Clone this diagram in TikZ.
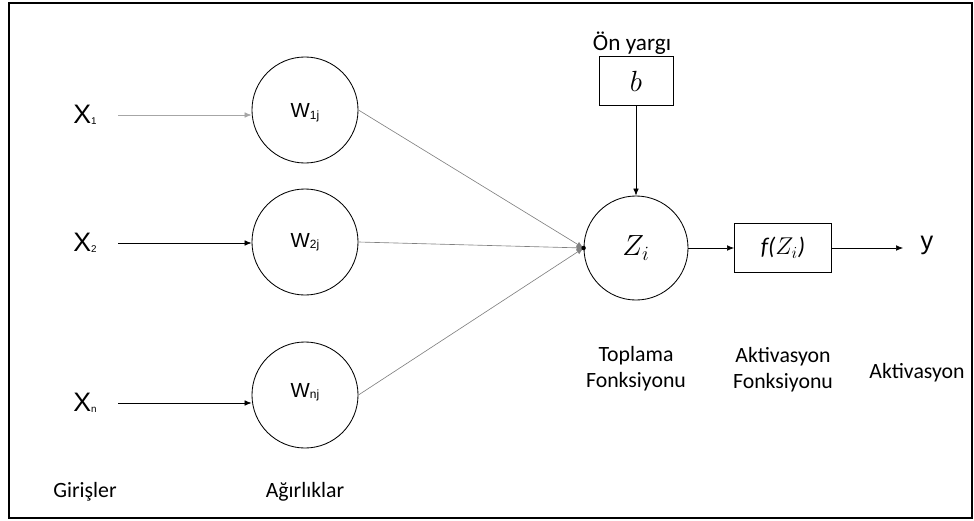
\documentclass[tikz,border=0pt]{standalone}
\usepackage{fontspec}
\setmainfont{Carlito}
\newfontfamily\arialf{Liberation Sans}
\usetikzlibrary{arrows.meta}
\definecolor{fil}{HTML}{808080}
\definecolor{filclair}{HTML}{A6A6A6}
\newcommand{\giris}[2]{{\arialf\fontsize{19}{22}\selectfont #1\raisebox{-1pt}{\fontsize{7}{8}\selectfont #2}}}
\newcommand{\agirlik}[2]{{\arialf\fontsize{14.5}{17}\selectfont #1\raisebox{-1pt}{\fontsize{8.5}{10}\selectfont #2}}}

\begin{document}
\begin{tikzpicture}[x=0.025cm, y=-0.025cm,
    noeud/.style={circle, draw, line width=0.6pt, minimum size=2.65cm, inner sep=0pt},
    kutu/.style={rectangle, draw, line width=0.6pt, inner sep=0pt},
    etiket/.style={font=\fontsize{15.5}{18.5}\selectfont, align=center},
    ok/.style={-{Latex[length=5pt, width=4pt]}, line width=0.5pt}]
    \useasboundingbox (0,0) rectangle (974,520);
    \draw[line width=1.1pt] (9,3) rectangle (972,518);

    % girisler ve agirliklar
    \node (x1) at (85,115) {\giris{X}{1}};
    \node (x2) at (85,243) {\giris{X}{2}};
    \node (xn) at (85,403) {\giris{X}{n}};
    \node[noeud, label={[yshift=-2pt]center:\agirlik{W}{1j}}] (w1) at (305,110) {};
    \node[noeud, label={[yshift=0pt]center:\agirlik{W}{2j}}] (w2) at (305,242) {};
    \node[noeud, label={[yshift=2pt]center:\agirlik{W}{nj}}] (wn) at (305,395) {};
    \draw[ok, filclair, shorten <=12pt] (x1.east) -- (x1.east -| w1.west);
    \draw[ok, shorten <=12pt] (x2.east) -- (x2.east -| w2.west);
    \draw[ok, shorten <=12pt] (xn.east) -- (xn.east -| wn.west);

    % toplama
    \node[noeud, minimum size=2.6cm] (z) at (636,248) {\fontsize{20}{24}\selectfont $Z_i$};
    \foreach \w in {w1, w2, wn}
      \draw[ok, fil, line width=0.45pt] (\w.east) -- (z.west);
    \fill (z.west) circle (1.6pt);

    % on yargi
    \node[kutu, minimum width=1.85cm, minimum height=1.225cm] (b) at (636,81) {\fontsize{20}{24}\selectfont $b$};
    \node[etiket, font=\fontsize{16.5}{19}\selectfont] (onyargi) at (632,43) {Ön yargı};
    \draw[ok] (b) -- (z);

    % aktivasyon
    \node[kutu, minimum width=2.425cm, minimum height=1.225cm] (f) at (783,248) {\fontsize{17}{20}\selectfont\itshape f($Z_i$)};
    \node (y) at (927,245) {\arialf\fontsize{18}{21}\selectfont y};
    \draw[ok] (z) -- (f);
    \draw[ok, shorten >=9pt] (f.east) -- (y.west |- f.east);

    % alt etiketler
    \node[etiket] (toplama) at (636,369) {Toplama\\Fonksiyonu};
    \node[etiket] (aktfonk) at (783,370) {Aktivasyon\\Fonksiyonu};
    \node[etiket] (akt) at (917,373) {Aktivasyon};
    \node[etiket] (girisler) at (85,492) {Girişler};
    \node[etiket] (agirliklar) at (305,492) {Ağırlıklar};
\end{tikzpicture}
\end{document}
